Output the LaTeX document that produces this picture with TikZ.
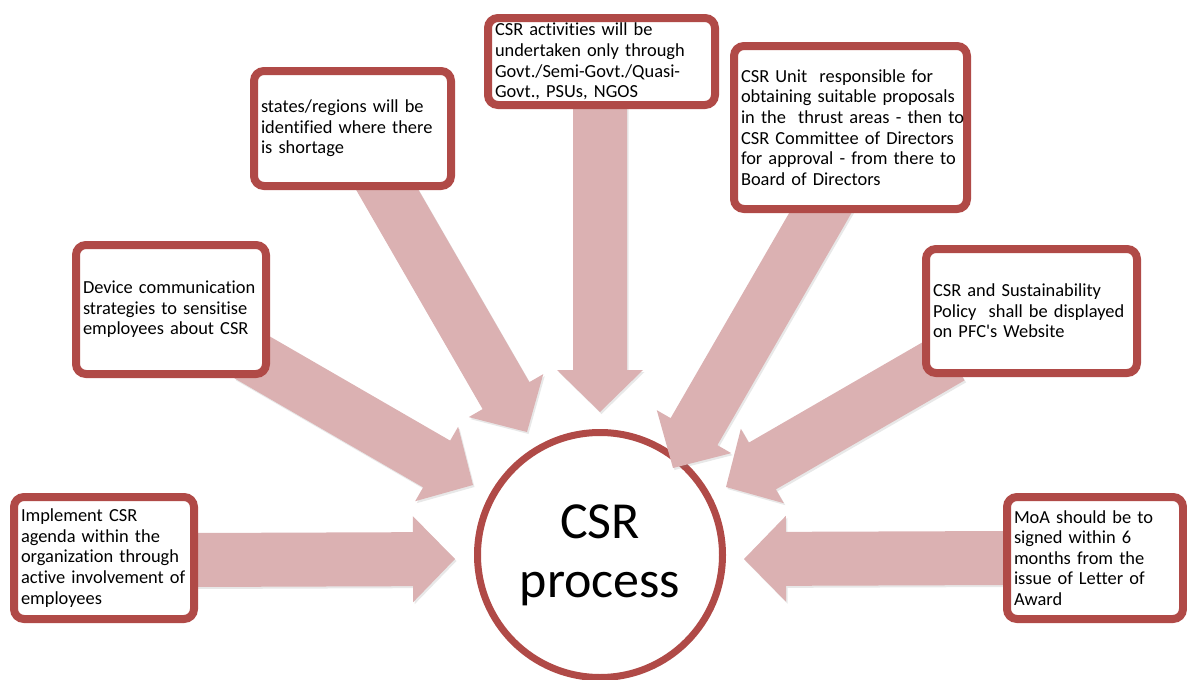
\documentclass[tikz,border=0pt]{standalone}
\usepackage{fontspec}
\setmainfont{Carlito}[Ligatures={TeXOff,NoCommon}, WordSpace=0.75]
\usetikzlibrary{calc,shadows}
\definecolor{csrred}{RGB}{176,74,71}
\definecolor{arrowpink}{RGB}{219,177,178}
\newcommand\boxfont{\fontsize{18.4}{20.6}\selectfont}
\newcommand\bigfont{\fontsize{52}{59}\selectfont}
\newcommand\blockarrow[3]{%
  \coordinate (#3) at ($(#2)!42pt!(#1)$);
  \fill[arrowfill]
    ($(#1)!27pt!90:(#2)$) -- ($(#3)!27pt!90:(#2)$) -- ($(#3)!43pt!90:(#2)$) --
    (#2) --
    ($(#3)!43pt!-90:(#2)$) -- ($(#3)!27pt!-90:(#2)$) -- ($(#1)!27pt!-90:(#2)$) -- cycle;
}
\tikzset{
  arrowfill/.style={fill=arrowpink, drop shadow={shadow xshift=1.5pt, shadow yshift=-2pt, opacity=0.18}},
  ibox/.style={draw=csrred, line width=8pt, fill=white, rounded corners=10pt,
    inner xsep=7pt, inner ysep=1pt, align=left, font=\boxfont,
    drop shadow={shadow xshift=2pt, shadow yshift=-3pt, opacity=0.2}},
  hub/.style={circle, draw=csrred, line width=7pt, fill=white, minimum size=245pt,
    inner sep=0pt, align=center, font=\bigfont,
    drop shadow={shadow xshift=2pt, shadow yshift=-3pt, opacity=0.2}}
}
\begin{document}
\begin{tikzpicture}[x=1pt, y=-1pt]
\useasboundingbox (0,0) rectangle (1187,680);

% central circle
\node[hub] (csr) at (600,555) {CSR\\process};

% arrow end points
\coordinate (sA) at (195,560);  \coordinate (tA) at (455,559);
\coordinate (sB) at (248,355);  \coordinate (tB) at (473,485);
\coordinate (sC) at (377,172);  \coordinate (tC) at (527,432);
\coordinate (sD) at (600,100);  \coordinate (tD) at (600,412);
\coordinate (sE) at (833,191);  \coordinate (tE) at (673,468);
\coordinate (sF) at (951,357);  \coordinate (tF) at (726,487);
\coordinate (sG) at (1010,558); \coordinate (tG) at (744,559);

\blockarrow{sA}{tA}{bA}
\blockarrow{sB}{tB}{bB}
\blockarrow{sC}{tC}{bC}
\blockarrow{sD}{tD}{bD}
\blockarrow{sE}{tE}{bE}
\blockarrow{sF}{tF}{bF}
\blockarrow{sG}{tG}{bG}

% boxes
\node[ibox, text width=166pt, minimum height=122pt] (impl) at (104,558)
  {Implement CSR\\agenda within the\\organization through\\active involvement of\\employees};
\node[ibox, text width=176pt, minimum height=129pt] (dev) at (171,309.5)
  {Device communication\\strategies to sensitise\\employees about CSR};
\node[ibox, text width=183pt, minimum height=115pt] (st) at (352.5,128.5)
  {states/regions will be\\identified where there\\is shortage};
\node[ibox, text width=213pt, minimum height=87pt] (act) at (601.5,61.5)
  {CSR activities will be\\undertaken only through\\Govt./Semi-Govt./Quasi-\\Govt., PSUs, NGOS};
\node[ibox, text width=219pt, minimum height=163pt] (unit) at (850.5,127.5)
  {\mbox{CSR Unit\ \ responsible for}\\\mbox{obtaining suitable proposals}\\\mbox{in the\ \ thrust areas - then to}\\\mbox{CSR Committee of Directors}\\\mbox{for approval - from there to}\\\mbox{Board of Directors}};
\node[ibox, text width=197pt, minimum height=124pt] (pol) at (1031.5,311)
  {CSR and Sustainability\\Policy\ \ shall be displayed\\on PFC's Website};
\node[ibox, text width=162pt, minimum height=122pt] (moa) at (1095,558)
  {MoA should be to\\signed within 6\\months from the\\issue of Letter of\\Award};
\end{tikzpicture}
\end{document}
